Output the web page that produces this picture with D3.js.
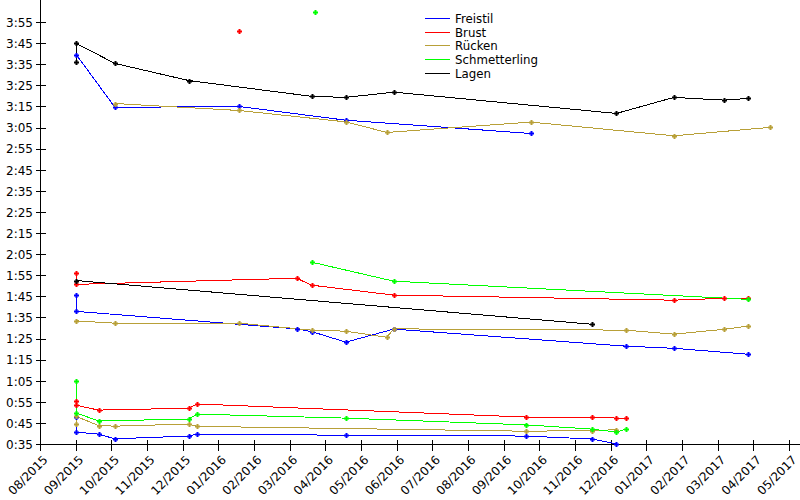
<!DOCTYPE html>
<html><head><meta charset="utf-8">
<script src="https://cdn.jsdelivr.net/npm/d3@7/dist/d3.min.js"></script>
<style>
body{margin:0;background:#fff}
svg text{font-family:"DejaVu Sans",sans-serif;font-size:12px;fill:#000}
svg .legend text{font-size:11.8px}
</style>
</head><body>
<svg id="chart" width="800" height="500"></svg>
<script>
// ---- data (times in seconds) ----
const strokeNames = ["Freistil","Brust","Rücken","Schmetterling","Lagen"];

const freistil50  = [["2015-09-03",47.8],["2015-09-03",40.9],["2015-09-22",39.9],["2015-10-06",37.7],["2015-12-08",39.0],["2015-12-15",39.9],["2016-04-20",39.4],["2016-09-21",39.0],["2016-11-16",37.6],["2016-12-07",35.3]];
const freistil100 = [["2015-09-03",105.9],["2015-09-03",98.1],["2016-03-09",89.8],["2016-03-22",88.5],["2016-04-20",83.5],["2016-05-31",89.7],["2016-12-15",81.6],["2017-01-25",80.6],["2017-03-29",77.8]];
const freistil200 = [["2015-09-03",219.8],["2015-10-06",194.8],["2016-01-20",195.2],["2016-04-20",188.7],["2016-09-25",182.4]];

const brust50  = [["2015-09-03",55.5],["2015-09-03",53.6],["2015-09-22",51.3],["2015-12-08",52.2],["2015-12-15",54.2],["2016-09-21",48.0],["2016-11-16",48.0],["2016-12-07",47.5],["2016-12-15",47.5]];
const brust100 = [["2015-09-03",116.3],["2015-09-03",110.9],["2016-03-09",113.8],["2016-03-22",110.5],["2016-05-31",105.8],["2017-01-25",103.4],["2017-03-09",104.3],["2017-03-29",104.3]];
const brust200 = [["2016-01-20",231.2]];

const ruecken50  = [["2015-09-03",44.8],["2015-09-03",48.3],["2015-09-22",44.0],["2015-10-06",43.7],["2015-12-08",44.7],["2015-12-15",43.6],["2016-09-21",41.3],["2016-11-16",41.6],["2016-12-07",42.0]];
const ruecken100 = [["2015-09-03",93.6],["2015-10-06",92.5],["2016-01-20",92.5],["2016-03-22",89.2],["2016-04-20",88.7],["2016-05-25",85.8],["2016-05-31",89.8],["2016-12-15",89.2],["2017-01-25",87.3],["2017-03-09",89.6],["2017-03-29",91.1]];
const ruecken200 = [["2015-10-06",196.6],["2016-01-20",193.3],["2016-04-20",187.9],["2016-05-25",182.9],["2016-09-25",187.8],["2017-01-25",181.3],["2017-04-17",185.3]];

const schmetterling50  = [["2015-09-03",65.1],["2015-09-03",49.9],["2015-09-22",46.2],["2015-12-08",47.0],["2015-12-15",49.4],["2016-04-20",47.5],["2016-09-21",44.3],["2016-11-16",42.3],["2016-12-07",40.9],["2016-12-15",42.3]];
const schmetterling100 = [["2016-03-22",121.4],["2016-05-31",112.4],["2017-03-29",103.8]];
const schmetterling200 = [["2016-03-25",240.2]];

const lagen100 = [["2015-09-03",112.7],["2016-11-16",92.0]];
const lagen200 = [["2015-09-03",216.1],["2015-09-03",225.1],["2015-10-06",215.6],["2015-12-08",207.5],["2016-03-22",200.0],["2016-04-20",199.5],["2016-05-31",202.0],["2016-12-07",191.9],["2017-01-25",199.5],["2017-03-09",198.2],["2017-03-29",199.0]];

const yTickValues = [35,45,55,65,75,85,95,105,115,125,135,145,155,165,175,185,195,205,215,225,235];
const xTickLabels = ["08/2015","09/2015","10/2015","11/2015","12/2015","01/2016","02/2016","03/2016","04/2016","05/2016","06/2016","07/2016","08/2016","09/2016","10/2016","11/2016","12/2016","01/2017","02/2017","03/2017","04/2017","05/2017"];

// ---- styles ----
const colors = {"Freistil":"#0000ff","Brust":"#ff0000","Rücken":"#b8a038","Schmetterling":"#00ff00","Lagen":"#000000"};

const series = [
  {stroke:"Freistil", data:freistil50},{stroke:"Freistil", data:freistil100},{stroke:"Freistil", data:freistil200},
  {stroke:"Brust", data:brust50},{stroke:"Brust", data:brust100},{stroke:"Brust", data:brust200},
  {stroke:"Rücken", data:ruecken50},{stroke:"Rücken", data:ruecken100},{stroke:"Rücken", data:ruecken200},
  {stroke:"Schmetterling", data:schmetterling50},{stroke:"Schmetterling", data:schmetterling100},{stroke:"Schmetterling", data:schmetterling200},
  {stroke:"Lagen", data:lagen100},{stroke:"Lagen", data:lagen200}
];

const parse = d3.utcParse("%Y-%m-%d");
const DAY = 86400000;
const tickStep = 30.4375 * DAY;
const t0 = Date.UTC(2015,7,3,12);
const xTickDates = xTickLabels.map((_, i) => new Date(t0 + i * tickStep));

const svg = d3.select("#chart");
const x = d3.scaleUtc().domain([xTickDates[0], xTickDates[xTickDates.length-1]]).range([40.5, 789.5]);
const y = d3.scaleLinear().domain([35, 235]).range([444.5, 22.5]);
const fmt = s => Math.floor(s/60) + ":" + String(Math.round(s%60)).padStart(2,"0");

// axes
const axisG = svg.append("g").attr("shape-rendering","crispEdges");
axisG.append("line").attr("x1",40.5).attr("x2",40.5).attr("y1",0).attr("y2",444.5).attr("stroke","#000");
axisG.append("line").attr("x1",40.5).attr("x2",800).attr("y1",444.5).attr("y2",444.5).attr("stroke","#000");

const yt = svg.append("g").selectAll("g").data(yTickValues).join("g")
  .attr("transform", d => `translate(0,${y(d)})`);
yt.append("line").attr("x1",35.5).attr("x2",45.5).attr("stroke","#000").attr("shape-rendering","crispEdges");
yt.append("text").attr("x",33).attr("dy","0.36em").attr("text-anchor","end").text(fmt);

const xt = svg.append("g").selectAll("g").data(xTickDates).join("g")
  .attr("transform", d => `translate(${x(d)},444.5)`);
xt.append("line").attr("y1",-5).attr("y2",6).attr("stroke","#000").attr("shape-rendering","crispEdges");
xt.append("text").attr("text-anchor","end")
  .attr("transform","translate(8,16) rotate(-45)")
  .text((d,i) => xTickLabels[i]);

// lines
const line = d3.line().x(d => x(parse(d[0]))).y(d => y(d[1]));
const plot = svg.append("g");
series.forEach(s => {
  plot.append("path").datum(s.data)
    .attr("d", line).attr("fill","none").attr("stroke", colors[s.stroke])
    .attr("stroke-width",1).attr("shape-rendering","crispEdges");
});
series.forEach(s => {
  plot.append("g").selectAll("path").data(s.data).join("path")
    .attr("transform", d => `translate(${Math.round(x(parse(d[0])))+0.5},${Math.round(y(d[1]))+0.5})`)
    .attr("d","M-2.5,0H2.5M0,-2.5V2.5")
    .attr("stroke", colors[s.stroke]).attr("stroke-width",2).attr("fill","none");
});

// legend
const leg = svg.append("g").attr("class","legend").selectAll("g").data(strokeNames).join("g")
  .attr("transform",(d,i)=>`translate(0,${Math.round(17.8 + i*13.75) + 0.5})`);
leg.append("line").attr("x1",425).attr("x2",450).attr("stroke",d=>colors[d]).attr("stroke-width",1);
leg.append("text").attr("x",455).attr("dy","0.36em").text(d=>d);
</script>
</body></html>
